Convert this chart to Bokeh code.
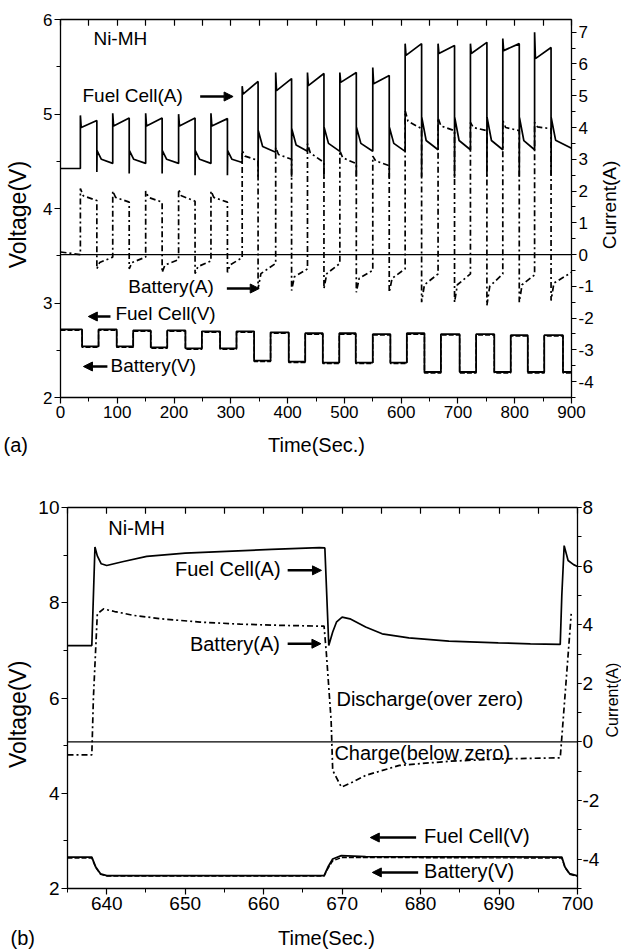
import numpy as np
from bokeh.plotting import figure
from bokeh.models import (Range1d, LinearAxis, SingleIntervalTicker, Span, Label, Arrow, NormalHead,
                          PrintfTickFormatter)
from bokeh.layouts import column, row
from bokeh.embed import file_html
from bokeh.resources import INLINE

FONT = "Liberation Sans"

# ---------------- Panel (a) data ----------------
a_rise = [35, 92, 150, 208, 265, 320, 379, 435, 492, 550, 607, 665, 722, 779, 835]
a_fall = [64, 121, 179, 237, 294, 348, 407, 464, 521, 579, 636, 694, 751, 808, 864]
fc_pre = 2.71
fc_spike = [4.38, 4.45, 4.45, 4.42, 4.45, 5.30, 5.73, 5.73, 5.73, 5.89, 6.64, 6.64, 6.64, 6.80, 7.00]
fc_dip = [4.00, 4.05, 4.05, 4.05, 4.05, 5.05, 5.16, 5.32, 5.42, 5.38, 6.27, 6.33, 6.33, 6.42, 6.17]
fc_end = [4.22, 4.30, 4.30, 4.30, 4.28, 5.45, 5.54, 5.70, 5.73, 5.64, 6.64, 6.58, 6.68, 6.64, 6.52]
fc_drop = [2.60, 2.55, 2.55, 2.50, 2.50, 2.45, 2.45, 2.42, 2.45, 2.42, 2.45, 2.42, 2.45, 2.45, 2.50]
fc_lo_start = [3.27, 3.27, 3.27, 3.27, 3.27, 3.90, 3.95, 4.00, 4.00, 4.00, 4.31, 4.31, 4.31, 4.31, 4.30]
fc_lo_mid = [3.00, 3.00, 3.00, 3.00, 3.00, 3.40, 3.45, 3.50, 3.50, 3.50, 3.59, 3.59, 3.59, 3.59, 3.60]
fc_lo_end = [2.87, 2.87, 2.87, 2.87, 2.90, 3.22, 3.25, 3.25, 3.25, 3.25, 3.30, 3.30, 3.30, 3.30, 3.35]

bat_pre = [0.08, 0.0]
bat_hi_start = [2.08, 2.00, 2.00, 2.05, 2.00, 3.27, 3.37, 3.49, 3.27, 3.10, 4.53, 4.30, 4.16, 4.22, 4.16]
bat_hi_mid = [1.85, 1.80, 1.80, 1.85, 1.80, 3.10, 3.15, 3.20, 3.05, 2.95, 4.20, 4.05, 4.00, 4.00, 4.02]
bat_hi_end = [1.70, 1.65, 1.65, 1.68, 1.65, 2.96, 3.00, 2.90, 2.86, 2.80, 3.96, 3.90, 3.90, 3.90, 3.96]
bat_lo_start = [-0.45, -0.45, -0.56, -0.60, -0.56, -1.07, -1.13, -1.07, -1.19, -1.19, -1.50, -1.50, -1.60, -1.50, -1.45]
bat_lo_mid = [-0.25, -0.25, -0.33, -0.38, -0.32, -0.60, -0.70, -0.60, -0.75, -0.75, -0.95, -0.95, -1.00, -0.95, -0.90]
bat_lo_end = [-0.08, -0.08, -0.16, -0.20, -0.10, -0.28, -0.45, -0.28, -0.50, -0.45, -0.61, -0.61, -0.61, -0.64, -0.56]

v_low_t = [38, 99, 159, 220, 281, 341, 402, 462, 520, 581, 641, 703, 764, 823, 885]
v_low_end = [67, 128, 188, 249, 310, 370, 431, 491, 550, 610, 670, 732, 793, 852, 900]
fcv_high = [2.72, 2.72, 2.71, 2.71, 2.70, 2.70, 2.69, 2.68, 2.68, 2.67, 2.68, 2.67, 2.67, 2.66, 2.66]
fcv_low = [2.54, 2.54, 2.53, 2.52, 2.52, 2.39, 2.38, 2.37, 2.37, 2.37, 2.27, 2.27, 2.27, 2.27, 2.27]
bv_high = [2.71, 2.71, 2.70, 2.70, 2.69, 2.69, 2.68, 2.67, 2.67, 2.66, 2.67, 2.66, 2.66, 2.65, 2.65]
bv_low = [2.53, 2.53, 2.52, 2.51, 2.51, 2.38, 2.37, 2.36, 2.36, 2.36, 2.26, 2.26, 2.26, 2.26, 2.26]

# ---------------- Panel (b) data ----------------
b_fc_t = [635, 638.1, 638.5, 638.8, 639.3, 640.0, 642.0, 645.1, 650.0, 656.0, 661.0, 667.1, 667.8,
          668.3, 668.8, 669.3, 670.0, 671.0, 673.0, 675.1, 678.5, 683.6, 689.9, 694.0, 697.8,
          698.0, 698.3, 698.8, 699.5, 700.0]
b_fc_a = [3.29, 3.29, 6.65, 6.35, 6.08, 6.02, 6.15, 6.33, 6.44, 6.51, 6.57, 6.63, 6.62,
          3.29, 3.75, 4.10, 4.26, 4.20, 3.92, 3.69, 3.55, 3.44, 3.38, 3.35, 3.33,
          5.00, 6.70, 6.19, 6.05, 5.99]
b_bat_t = [635, 638.1, 638.3, 638.8, 639.6, 641.0, 643.4, 647.0, 651.9, 657.0, 662.0, 667.7,
           668.0, 668.6, 668.8, 669.9, 671.5, 673.0, 677.3, 683.6, 689.9, 697.8, 698.1, 699.2]
b_bat_a = [-0.44, -0.44, 1.50, 4.37, 4.54, 4.45, 4.32, 4.20, 4.09, 4.02, 3.98, 3.95,
           3.00, 0.73, -0.97, -1.54, -1.35, -1.14, -0.80, -0.66, -0.58, -0.54, 0.50, 4.37]
b_fcv_t = [635, 638.1, 638.6, 639.2, 640.0, 667.7, 668.2, 668.8, 669.9, 673.0, 698.0, 698.4, 699.0, 699.9, 700]
b_fcv_v = [2.66, 2.66, 2.45, 2.31, 2.27, 2.27, 2.45, 2.62, 2.69, 2.67, 2.66, 2.45, 2.31, 2.27, 2.27]
b_bv_t = [635, 638.1, 638.6, 639.2, 640.0, 667.7, 668.2, 668.8, 669.9, 673.0, 698.0, 698.4, 699.0, 699.9, 700]
b_bv_v = [2.64, 2.64, 2.44, 2.30, 2.26, 2.26, 2.42, 2.58, 2.65, 2.65, 2.64, 2.44, 2.30, 2.26, 2.26]

# ---------------- build traces for panel (a) ----------------
fc_t, fc_v = [0, a_rise[0]], [fc_pre, fc_pre]
bt_t, bt_v = [0, a_rise[0]], list(bat_pre)
n = len(a_rise)
for k in range(n):
    r, f = a_rise[k], a_fall[k]
    nxt = a_rise[k + 1] if k < n - 1 else 900
    fc_t += [r, r + 1.5, f, f, f + 0.4, f + 8, nxt]
    fc_v += [fc_spike[k], fc_dip[k], fc_end[k], fc_drop[k], fc_lo_start[k], fc_lo_mid[k], fc_lo_end[k]]
    bt_t += [r, r + 5, f, f, f + 5, nxt]
    bt_v += [bat_hi_start[k], bat_hi_mid[k], bat_hi_end[k], bat_lo_start[k], bat_lo_mid[k], bat_lo_end[k]]


def volt_trace(hi, lo):
    t, v = [0], [hi[0]]
    for k in range(len(v_low_t)):
        s, e = v_low_t[k], v_low_end[k]
        if k < len(v_low_t) - 1:
            t += [s, s, e, e]
            v += [hi[k], lo[k], lo[k], hi[k + 1]]
        else:
            t += [s, s, e]
            v += [hi[k], lo[k], lo[k]]
    return t, v


fcv_t, fcv_v = volt_trace(fcv_high, fcv_low)
bv_t, bv_v = volt_trace(bv_high, bv_low)


def style_axis(ax, size, inward=False, labels=True, tick_out=6, standoff=2):
    ax.axis_line_color = "black"
    ax.axis_line_width = 1.3
    ax.major_tick_line_color = "black"
    ax.minor_tick_line_color = "black"
    ax.major_tick_line_width = 1.2
    ax.minor_tick_line_width = 1.0
    if inward:
        ax.major_tick_in, ax.major_tick_out = 6, 0
        ax.minor_tick_in, ax.minor_tick_out = 6, 0
    else:
        ax.major_tick_in, ax.major_tick_out = 0, tick_out
        ax.minor_tick_in, ax.minor_tick_out = 0, min(4, tick_out)
    ax.major_label_text_font = FONT
    ax.major_label_text_color = "black"
    ax.major_label_standoff = standoff
    if labels:
        ax.major_label_text_font_size = f"{size}px"
    else:
        ax.major_label_text_font_size = "0px"
        ax.major_label_text_alpha = 0


def make_fig(w, h, xr, yr, cr, borders, xint, yint, cint, tsize, rtick, rstand):
    p = figure(width=w, height=h, x_range=Range1d(*xr), y_range=Range1d(*yr),
               output_backend="svg", toolbar_location=None,
               min_border_left=borders[0], min_border_right=borders[1],
               min_border_top=borders[2], min_border_bottom=borders[3])
    p.extra_y_ranges = {"cur": Range1d(*cr)}
    p.xgrid.grid_line_color = None
    p.ygrid.grid_line_color = None
    p.outline_line_color = None
    p.background_fill_color = "white"
    p.border_fill_color = "white"
    p.xaxis.ticker = SingleIntervalTicker(interval=xint, num_minor_ticks=2)
    p.yaxis.ticker = SingleIntervalTicker(interval=yint, num_minor_ticks=2)
    style_axis(p.xaxis[0], tsize)
    style_axis(p.yaxis[0], tsize)
    ra = LinearAxis(y_range_name="cur", ticker=SingleIntervalTicker(interval=cint, num_minor_ticks=2),
                    formatter=PrintfTickFormatter(format="%d"))
    style_axis(ra, tsize, tick_out=rtick, standoff=rstand)
    p.add_layout(ra, "right")
    ta = LinearAxis(ticker=SingleIntervalTicker(interval=xint / 2, num_minor_ticks=1))
    style_axis(ta, tsize, inward=True, labels=False)
    p.add_layout(ta, "above")
    p.add_layout(Span(location=0, dimension="width", y_range_name="cur",
                      line_color="black", line_width=1.2))
    return p


def caption(w, h, items):
    c = figure(width=w, height=h, x_range=Range1d(0, w), y_range=Range1d(0, h),
               output_backend="svg", toolbar_location=None, min_border=0,
               x_axis_type=None, y_axis_type=None)
    c.outline_line_color = None
    c.background_fill_color = "white"
    c.border_fill_color = "white"
    for (x, y, t, size, ang, al) in items:
        c.add_layout(Label(x=x, y=y, text=t, text_font=FONT, text_font_size=f"{size}px",
                           text_color="black", text_align=al, text_baseline="middle", angle=ang))
    return c


def lab(p, x, y, text, size, align="left"):
    p.add_layout(Label(x=x, y=y, text=text, text_font=FONT, text_font_size=f"{size}px",
                       text_color="black", text_align=align, text_baseline="middle"))


def arrow(p, x0, y0, x1, y1):
    p.add_layout(Arrow(end=NormalHead(size=9, fill_color="black", line_color="black"),
                       x_start=x0, y_start=y0, x_end=x1, y_end=y1,
                       line_color="black", line_width=2.5))


DD = "6 3 2 3"
ROT = np.pi / 2

# ---------------- panel (a) ----------------
pa = make_fig(562, 430, (0, 900), (2, 6), (-4.5, 7.4), (26, 24, 19, 33), 100, 1, 1, 17, 5, 2)
pa.line(fcv_t, fcv_v, line_color="black", line_width=1.8)
pa.line(bv_t, bv_v, line_color="black", line_width=1.4, line_dash="5 2")
pa.line(fc_t, fc_v, y_range_name="cur", line_color="black", line_width=1.7)
pa.line(bt_t, bt_v, y_range_name="cur", line_color="black", line_width=1.7, line_dash=DD)

lab(pa, 58, 5.794, "Ni-MH", 19)
lab(pa, 38.7, 5.196, "Fuel Cell(A)", 19)
arrow(pa, 246, 5.185, 304, 5.185)
lab(pa, 119.5, 3.175, "Battery(A)", 19)
arrow(pa, 293, 3.153, 350, 3.153)
lab(pa, 96.7, 2.889, "Fuel Cell(V)", 19)
arrow(pa, 88, 2.857, 49, 2.857)
lab(pa, 88, 2.339, "Battery(V)", 19)
arrow(pa, 82.6, 2.328, 40.4, 2.328)

left_a = caption(34, 430, [(17, 208, "Voltage(V)", 23, ROT, "center")])
right_a = caption(25, 430, [(13, 219, "Current(A)", 19, ROT, "center")])
cap_a = caption(621, 40, [(3, 26, "(a)", 20, 0.0, "left"), (316, 26, "Time(Sec.)", 20, 0.0, "center")])

# ---------------- panel (b) ----------------
pb = make_fig(568, 455, (635, 700), (2, 10), (-5, 8), (33, 22, 37, 37), 10, 2, 2, 19, 4, 1)
pb.line(b_fcv_t, b_fcv_v, line_color="black", line_width=1.8)
pb.line(b_bv_t, b_bv_v, line_color="black", line_width=1.4, line_dash="5 2")
pb.line(b_fc_t, b_fc_a, y_range_name="cur", line_color="black", line_width=1.7)
pb.line(b_bat_t, b_bat_a, y_range_name="cur", line_color="black", line_width=1.7, line_dash=DD)

lab(pb, 640.2, 9.56, "Ni-MH", 20)
lab(pb, 648.7, 8.70, "Fuel Cell(A)", 20)
arrow(pb, 663.06, 8.68, 667.37, 8.68)
lab(pb, 650.6, 7.14, "Battery(A)", 20)
arrow(pb, 663.06, 7.14, 667.3, 7.14)
lab(pb, 669.28, 5.97, "Discharge(over zero)", 20)
lab(pb, 669.02, 4.835, "Charge(below zero)", 20)
arrow(pb, 679.43, 3.07, 673.59, 3.07)
lab(pb, 680.45, 3.11, "Fuel Cell(V)", 20)
arrow(pb, 679.69, 2.337, 673.85, 2.337)
lab(pb, 680.45, 2.36, "Battery(V)", 20)

left_b = caption(34, 455, [(17, 208, "Voltage(V)", 23, ROT, "center")])
right_b = caption(19, 455, [(9.5, 225, "Current(A)", 16, ROT, "center")])
cap_b = caption(621, 26, [(10, 14, "(b)", 20, 0.0, "left"), (326, 14, "Time(Sec.)", 20, 0.0, "center")])

layout = column(row(left_a, pa, right_a, spacing=0), cap_a,
                row(left_b, pb, right_b, spacing=0), cap_b, spacing=0)
open("out.html", "w").write(file_html(layout, INLINE))
